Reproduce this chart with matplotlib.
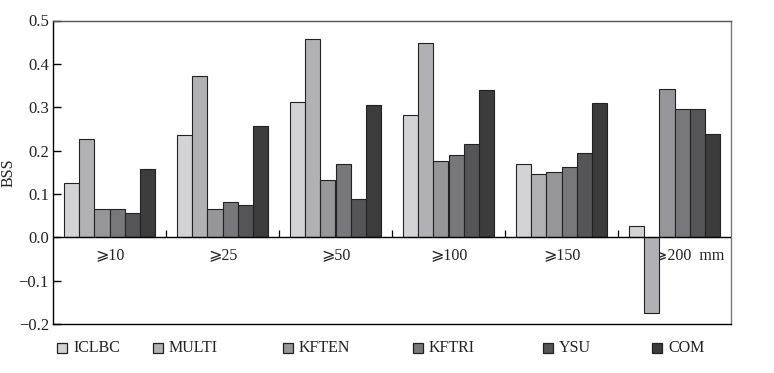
import numpy as np
import matplotlib.pyplot as plt
from matplotlib.patches import Rectangle

## data ##
groups = ['⩾10', '⩾25', '⩾50', '⩾100', '⩾150', '⩾200  mm']
models = ['ICLBC', 'MULTI', 'KFTEN', 'KFTRI', 'YSU', 'COM']

iclbc = [0.125, 0.235, 0.311, 0.282, 0.169, 0.026]
multi = [0.227, 0.373, 0.457, 0.449, 0.147, -0.175]
kften = [0.066, 0.066, 0.132, 0.176, 0.150, 0.343]
kftri = [0.066, 0.081, 0.169, 0.190, 0.162, 0.296]
ysu = [0.056, 0.075, 0.088, 0.216, 0.194, 0.296]
com = [0.158, 0.256, 0.304, 0.340, 0.310, 0.238]

y_ticks = [-0.2, -0.1, 0.0, 0.1, 0.2, 0.3, 0.4, 0.5]

colors = ['#d3d3d5', '#b1b1b5', '#96969a', '#78787c', '#555558', '#3c3c3c']

plt.rcParams['font.family'] = ['Liberation Serif', 'DejaVu Serif', 'DejaVu Sans']

fig = plt.figure(figsize=(7.74, 3.73), dpi=100)
ax = fig.add_axes([53 / 774, 1 - 324 / 373, 678 / 774, 303.5 / 373])

series = [iclbc, multi, kften, kftri, ysu, com]
n = len(groups)
w = 0.134
x = np.arange(n) + 0.5

## bars ##
for i, vals in enumerate(series):
    ax.bar(x + (i - 2.5) * w, vals, width=w, color=colors[i],
           edgecolor='#222222', linewidth=0.8, zorder=3)

ax.set_xlim(0, n)
ax.set_ylim(-0.2, 0.5)

## zero line with small upward ticks at group borders ##
ax.axhline(0, color='black', linewidth=1.0, zorder=4)
ax.vlines(np.arange(1, n), 0, 0.016, color='black', linewidth=0.9, zorder=4)

## group labels under the zero line ##
for i, g in enumerate(groups):
    xx = x[i] + (0.13 if i == n - 1 else 0)
    ax.text(xx, -0.04, g, ha='center', va='center', fontsize=11.5,
            color='#222222', zorder=2)

ax.set_xticks([])
ax.set_yticks(y_ticks)
ax.set_yticklabels(['−0.2', '−0.1', '0.0', '0.1', '0.2', '0.3', '0.4', '0.5'])
ax.tick_params(axis='y', direction='in', length=6, width=1, labelsize=12,
               labelcolor='#222222', pad=3)
ax.set_ylabel('BSS', fontsize=11.5, color='#222222')
ax.yaxis.set_label_coords(-0.053, 0.5)

ax.spines['left'].set_color('black')
ax.spines['bottom'].set_color('black')
ax.spines['top'].set_color('#555555')
ax.spines['right'].set_color('#777777')
for s in ax.spines.values():
    s.set_linewidth(1.0)

## legend placed by hand along the bottom ##
leg_x = [57, 153, 283, 413, 543, 652]
for i, name in enumerate(models):
    fig.patches.append(Rectangle((leg_x[i] / 774, 1 - 353 / 373), 10 / 774, 10 / 373,
                                 transform=fig.transFigure, facecolor=colors[i],
                                 edgecolor='#222222', linewidth=0.9))
    fig.text((leg_x[i] + 16) / 774, 1 - 348 / 373, name, ha='left', va='center',
             fontsize=11.5, color='#222222')

fig.savefig('out.png', dpi=100)
